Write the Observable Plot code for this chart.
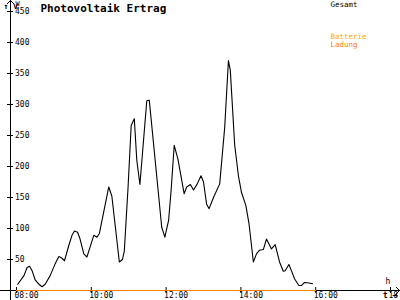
<!DOCTYPE html>
<html>
<head>
<meta charset="utf-8">
<script src="https://cdn.jsdelivr.net/npm/d3@7"></script>
<script src="https://cdn.jsdelivr.net/npm/@observablehq/plot@0.6"></script>
<style>
  html, body { margin: 0; padding: 0; background: #fff; }
  #chart { width: 400px; height: 300px; overflow: hidden; }
</style>
</head>
<body>
<div id="chart"></div>
<script>
// ---- data ----
const gesamtTimes = ["08:02","08:12","08:17","08:21","08:25","08:30","08:36","08:41","08:46","08:54",
  "09:02","09:08","09:13","09:17","09:24","09:29","09:33","09:38","09:42","09:48","09:53","09:58",
  "10:04","10:09","10:13","10:28","10:33","10:45","10:50","10:53","10:59",
  "11:04","11:09","11:13","11:18","11:29","11:33","11:53","11:58",
  "12:04","12:08","12:13","12:19","12:29","12:33","12:39","12:44","12:50","12:56",
  "13:00","13:05","13:09","13:16","13:26","13:34","13:40","13:43","13:50","13:56",
  "14:01","14:08","14:13","14:20","14:25","14:30","14:36","14:41","14:49","14:55",
  "15:02","15:08","15:11","15:17","15:21","15:26","15:33","15:37","15:42","15:49","15:55"];
const gesamtValues = [10,24,37,39,32,17,10,6,10,24,
  43,55,52,48,73,89,96,94,83,59,54,70,
  89,86,92,167,152,46,50,64,167,
  266,277,210,171,306,307,102,86,
  113,161,234,212,156,167,171,162,172,185,
  175,139,132,150,172,263,371,355,235,185,
  158,137,108,46,59,65,66,83,67,74,
  46,31,32,42,32,19,8,8,13,12,11];
const ladungTimes = ["08:00","16:00"];
const ladungValues = [0, 0];
const xTicks = [8, 10, 12, 14, 16, 18];
const yTicks = [50, 100, 150, 200, 250, 300, 350, 400, 450];
const titleText = "Photovoltaik Ertrag";
const legendGesamt = "Gesamt";
const legendBatterie = "Batterie";
const legendLadung = "Ladung";

// ---- build table ----
const toHours = s => { const [h, m] = s.split(":").map(Number); return h + m / 60; };
const gesamt = gesamtTimes.map((t, i) => ({t: toHours(t), v: gesamtValues[i]}));
const ladung = ladungTimes.map((t, i) => ({t: toHours(t), v: ladungValues[i]}));

const W = 400, H = 300, mL = 10, mR = 10, mT = 11, mB = 10;
const FONT = "'DejaVu Sans Mono', monospace";
const fmt = d => String(d).padStart(2, "0") + ":00";

const chart = Plot.plot({
  width: W, height: H,
  marginLeft: mL, marginRight: mR, marginTop: mT, marginBottom: mB,
  style: {fontFamily: FONT, fontSize: "8px", background: "#fff", color: "#000", overflow: "visible"},
  x: {domain: [8, 18], range: [16, 390], axis: null},
  y: {domain: [0, 450], axis: null},
  marks: [
    // y ticks crossing the axis
    Plot.axisY({anchor: "left", ticks: yTicks, tickSize: 6, dx: 3, tickFormat: () => "", stroke: "#000"}),
    // y labels right of axis
    Plot.axisY({anchor: "left", ticks: yTicks, tickSize: 0, tickPadding: 0, dx: 4.5, textAnchor: "start",
      fontSize: 8, fill: "#000"}),
    // x ticks crossing the axis
    Plot.axisX({anchor: "bottom", ticks: xTicks, tickSize: 6, dy: -3, tickFormat: () => "", stroke: "#000"}),
    // x labels
    Plot.axisX({anchor: "bottom", ticks: xTicks, tickSize: 0, tickPadding: 2, dx: -2, textAnchor: "start",
      tickFormat: fmt, fontSize: 8, fill: "#000"}),
    Plot.line(ladung, {x: "t", y: "v", stroke: "#ff8000", strokeWidth: 1.2}),
    Plot.line(gesamt, {x: "t", y: "v", stroke: "#000", strokeWidth: 1.1}),
    // title and legend texts
    Plot.text([titleText], {frameAnchor: "top-left", text: d => d, dx: 30, dy: -3, textAnchor: "start",
      lineAnchor: "middle", fontSize: 11, fontWeight: "bold", fill: "#000", letterSpacing: 0.35}),
    Plot.text([legendGesamt], {frameAnchor: "top-left", text: d => d, dx: 320, dy: -6.5, textAnchor: "start",
      lineAnchor: "middle", fontSize: 7.5, fill: "#000"}),
    Plot.text([legendBatterie], {frameAnchor: "top-left", text: d => d, dx: 320, dy: 25.5, textAnchor: "start",
      lineAnchor: "middle", fontSize: 7.5, fill: "#ffaa00"}),
    Plot.text([legendLadung], {frameAnchor: "top-left", text: d => d, dx: 320, dy: 33.5, textAnchor: "start",
      lineAnchor: "middle", fontSize: 7.5, fill: "#ff7f00"}),
    Plot.text(["W"], {frameAnchor: "top-left", text: d => d, dx: 5, dy: -7.5, textAnchor: "start",
      lineAnchor: "middle", fontSize: 7, fill: "#000"}),
    Plot.text(["h"], {frameAnchor: "bottom-right", text: d => d, dx: -2.5, dy: -9, textAnchor: "middle",
      lineAnchor: "middle", fontSize: 8, fill: "#000"})
  ]
});

// axis lines and arrows (frame decoration) inserted beneath the marks
const ax = mL + 0.5, ay = H - mB + 0.5;
const deco = d3.select(chart).insert("g", "g").attr("fill", "none").attr("stroke", "#000").attr("stroke-width", 1);
deco.append("line").attr("x1", ax).attr("x2", ax).attr("y1", 0).attr("y2", H);
deco.append("line").attr("x1", 0).attr("x2", W).attr("y1", ay).attr("y2", ay);
deco.append("polyline").attr("points", `${ax - 3.5},4 ${ax},0.5 ${ax + 3.5},4`);
deco.append("polyline").attr("points", `${W - 4},${ay - 3.5} ${W - 0.5},${ay} ${W - 4},${ay + 3.5}`);

document.getElementById("chart").appendChild(chart);
</script>
</body>
</html>
